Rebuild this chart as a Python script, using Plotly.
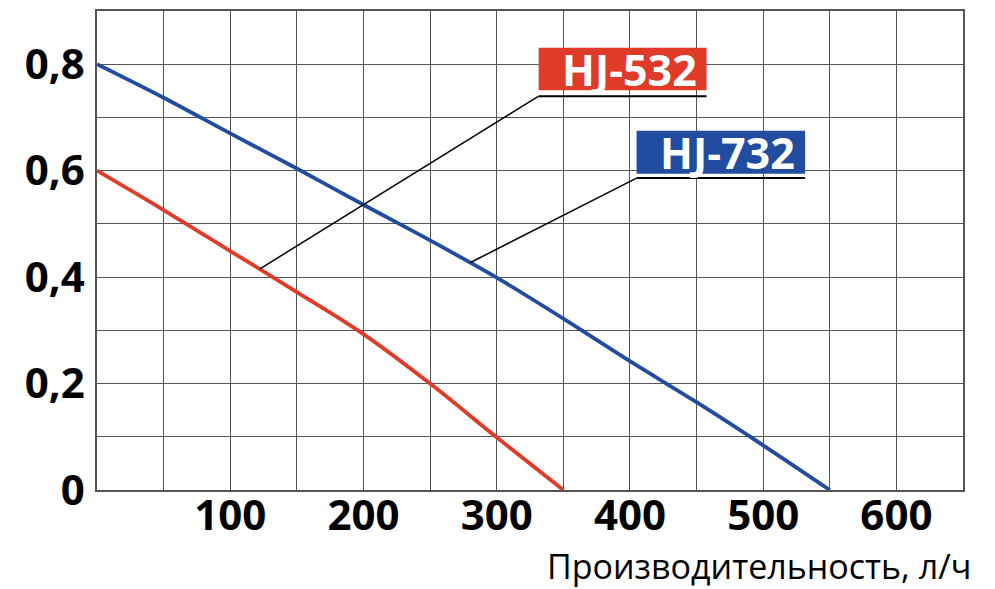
import numpy as np
import plotly.graph_objects as go

# Data
flow_532 = [0, 50, 100, 150, 200, 250, 300, 350]
head_532 = [0.60, 0.526, 0.449, 0.372, 0.293, 0.200, 0.099, 0.0]

flow_732 = [0, 50, 100, 150, 200, 250, 300, 350, 400, 450, 500, 550]
head_732 = [0.80, 0.737, 0.670, 0.604, 0.536, 0.469, 0.399, 0.322, 0.242, 0.165, 0.084, 0.0]

x_grid = [0, 50, 100, 150, 200, 250, 300, 350, 400, 450, 500, 550, 600, 650]
x_labels = ["", "", "100", "", "200", "", "300", "", "400", "", "500", "", "600", ""]
y_grid = [0, 0.1, 0.2, 0.3, 0.4, 0.5, 0.6, 0.7, 0.8, 0.9]
y_labels = ["0", "", "0,2", "", "0,4", "", "0,6", "", "0,8", ""]

RED = "#E03A28"
BLUE = "#214C9F"
GRID = "#555555"

fig = go.Figure()
fig.add_trace(go.Scatter(x=flow_532, y=head_532, mode="lines",
                         line=dict(color=RED, width=3.8, shape="spline", smoothing=1.0),
                         name="HJ-532", showlegend=False, hoverinfo="skip"))
fig.add_trace(go.Scatter(x=flow_732, y=head_732, mode="lines",
                         line=dict(color=BLUE, width=3.8, shape="spline", smoothing=1.0),
                         name="HJ-732", showlegend=False, hoverinfo="skip"))

# label boxes and leader lines
labels = [
    dict(text="HJ-532", color=RED, x0=331.5, x1=457.5, y0=0.751, y1=0.831, uy=0.740,
         fx=flow_532, fy=head_532, px=122),
    dict(text="HJ-732", color=BLUE, x0=405, x1=531.5, y0=0.594, y1=0.675, uy=0.586,
         fx=flow_732, fy=head_732, px=280),
]
for lb in labels:
    fig.add_shape(type="rect", x0=lb["x0"], x1=lb["x1"], y0=lb["y0"], y1=lb["y1"],
                  fillcolor=lb["color"], line=dict(width=0), layer="above")
    fig.add_shape(type="line", x0=lb["x0"], x1=lb["x1"], y0=lb["uy"], y1=lb["uy"],
                  line=dict(color="black", width=2), layer="above")
    py = float(np.interp(lb["px"], lb["fx"], lb["fy"]))
    fig.add_shape(type="line", x0=lb["x0"], x1=lb["px"], y0=lb["uy"], y1=py,
                  line=dict(color="black", width=1.5), layer="above")
    fig.add_annotation(x=(lb["x0"] + lb["x1"]) / 2 + 5, y=(lb["y0"] + lb["y1"]) / 2,
                       text="<b>" + lb["text"] + "</b>", showarrow=False,
                       font=dict(family="Open Sans", size=43, color="white"),
                       xanchor="center", yanchor="middle")

fig.add_annotation(xref="paper", yref="paper", x=1.011, y=-0.159,
                   text="Производительность, л/ч", showarrow=False,
                   xanchor="right", yanchor="middle",
                   font=dict(family="Open Sans", size=34, color="black"))

fig.update_xaxes(range=[0, 650], tickvals=x_grid, ticktext=x_labels,
                 showgrid=True, gridcolor=GRID, gridwidth=1.3,
                 showline=True, linecolor=GRID, linewidth=1.5, mirror=True,
                 ticks="", zeroline=False, automargin=False, ticklabelstandoff=-12,
                 tickfont=dict(family="Open Sans", size=42, color="black", weight="bold"))
fig.update_yaxes(range=[0, 0.9], tickvals=y_grid, ticktext=y_labels,
                 showgrid=True, gridcolor=GRID, gridwidth=1.3,
                 showline=True, linecolor=GRID, linewidth=1.5, mirror=True,
                 ticks="", zeroline=False, ticklabelstandoff=2, automargin=False,
                 tickfont=dict(family="Open Sans", size=42, color="black", weight="bold"))

fig.update_layout(width=995, height=589, plot_bgcolor="white", paper_bgcolor="white",
                  margin=dict(l=89, r=40, t=3, b=107), showlegend=False)

fig.write_html("out.html")
